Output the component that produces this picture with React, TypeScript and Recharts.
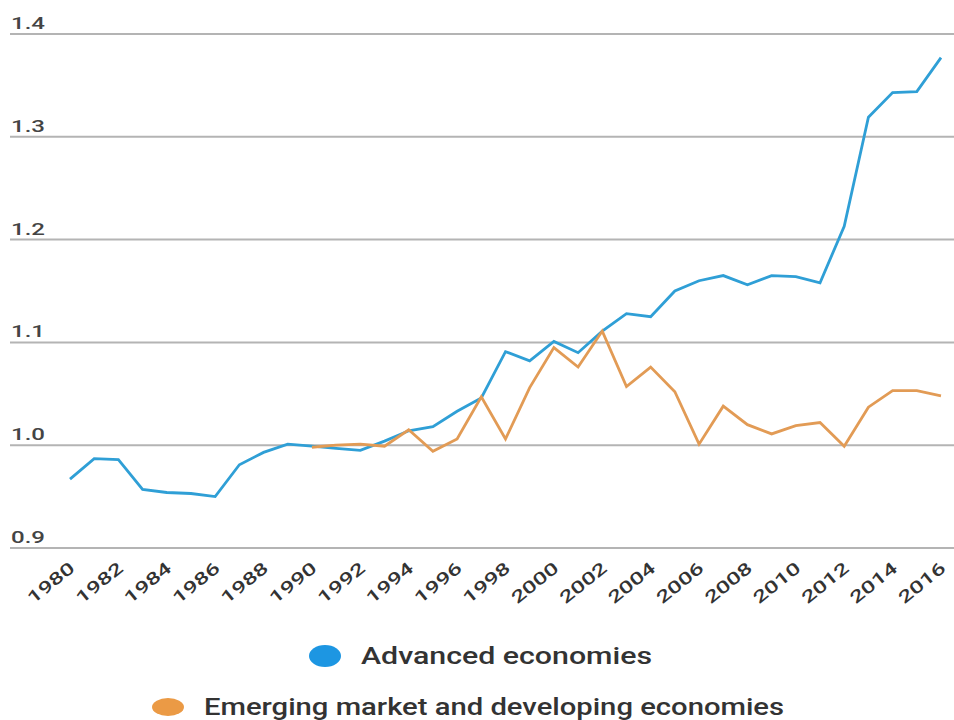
import React from "react";
import { LineChart, Line, XAxis, YAxis, CartesianGrid, Legend } from "recharts";

const years = [1980,1981,1982,1983,1984,1985,1986,1987,1988,1989,1990,1991,1992,1993,1994,1995,1996,1997,1998,1999,2000,2001,2002,2003,2004,2005,2006,2007,2008,2009,2010,2011,2012,2013,2014,2015,2016];
const advanced = [0.967,0.987,0.986,0.957,0.954,0.953,0.950,0.981,0.993,1.001,0.999,0.997,0.995,1.004,1.014,1.018,1.033,1.046,1.091,1.082,1.101,1.090,1.111,1.128,1.125,1.150,1.160,1.165,1.156,1.165,1.164,1.158,1.213,1.319,1.343,1.344,1.377];
const emerging = [null,null,null,null,null,null,null,null,null,null,0.998,1.000,1.001,0.999,1.015,0.994,1.006,1.047,1.006,1.056,1.095,1.076,1.111,1.057,1.076,1.052,1.001,1.038,1.020,1.011,1.019,1.022,0.999,1.037,1.053,1.053,1.048];
const xTicks = [1980,1982,1984,1986,1988,1990,1992,1994,1996,1998,2000,2002,2004,2006,2008,2010,2012,2014,2016];
const yTicks = [0.9,1.0,1.1,1.2,1.3,1.4];
const seriesNames = ["Advanced economies", "Emerging market and developing economies"];

const data = years.map((y, i) => ({ year: y, advanced: advanced[i], emerging: emerging[i] }));

const BLUE = "#2f9fd6";
const ORANGE = "#e29b55";
const FONT = "Roboto, 'Liberation Sans', Arial, sans-serif";

const YTick = (props: any) => {
  const { y, payload } = props;
  return (
    <text x={11} y={y - 5} fill="#444" fontFamily={FONT} fontSize={17} fontWeight={500}
      textLength={34} lengthAdjust="spacingAndGlyphs">
      {Number(payload.value).toFixed(1)}
    </text>
  );
};

const XTick = (props: any) => {
  const { x, y, payload } = props;
  return (
    <g transform={`translate(${x + 6},${y + 14}) rotate(-39)`}>
      <text x={0} y={0} textAnchor="end" fill="#333" fontFamily={FONT} fontSize={17} fontWeight={500}
        textLength={55} lengthAdjust="spacingAndGlyphs">
        {payload.value}
      </text>
    </g>
  );
};

const renderLegend = () => (
  <div style={{ height: 112, width: 954, position: "relative", fontFamily: FONT }}>
    <svg width={954} height={112} style={{ display: "block" }}>
      <ellipse cx={316} cy={48} rx={16} ry={11} fill="#1d96e2" />
      <text x={352} y={56} fill="#333" fontSize={24} fontFamily={FONT} fontWeight={500}
        textLength={291} lengthAdjust="spacingAndGlyphs">{seriesNames[0]}</text>
      <ellipse cx={159} cy={99} rx={16} ry={9} fill="#eb9a45" />
      <text x={195} y={107} fill="#333" fontSize={24} fontFamily={FONT} fontWeight={500}
        textLength={580} lengthAdjust="spacingAndGlyphs">{seriesNames[1]}</text>
    </svg>
  </div>
);

export default function App() {
  return (
    <div style={{ position: "absolute", left: 0, top: 0, width: 954, height: 720, background: "#fff" }}>
      <LineChart width={954} height={720} data={data} margin={{ top: 34, right: 0, left: 9, bottom: 0 }}>
        <CartesianGrid horizontal={true} vertical={false} stroke="#b4b4b4" strokeWidth={2} />
        <XAxis dataKey="year" type="number" domain={[1980, 2016]} ticks={xTicks} interval={0}
          padding={{ left: 60, right: 13 }} height={60} axisLine={false} tickLine={false} tick={<XTick />} />
        <YAxis type="number" domain={[0.9, 1.4]} ticks={yTicks} width={1} axisLine={false} tickLine={false}
          tick={<YTick />} allowDataOverflow={true} interval={0} />
        <Legend verticalAlign="bottom" content={renderLegend} />
        <Line type="linear" dataKey="advanced" stroke={BLUE} strokeWidth={2.8} dot={false} isAnimationActive={false} />
        <Line type="linear" dataKey="emerging" stroke={ORANGE} strokeWidth={2.8} dot={false} isAnimationActive={false} />
      </LineChart>
    </div>
  );
}
